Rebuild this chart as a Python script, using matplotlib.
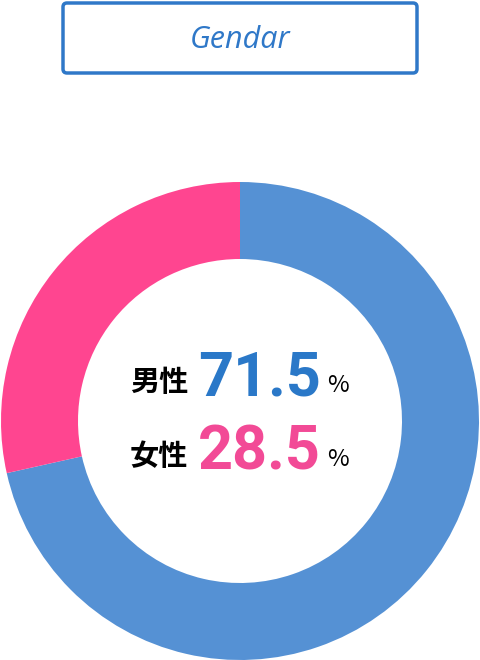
import matplotlib.pyplot as plt
from matplotlib.patches import FancyBboxPatch

labels = ['男性', '女性']
values = [71.5, 28.5]
ring_colors = ['#5591d4', '#ff4590']
text_colors = ['#2a78c8', '#f24a96']

fig = plt.figure(figsize=(4.8, 6.6), dpi=100)
ax = fig.add_axes([0, 0, 1, 1])

ax.pie(values, colors=ring_colors, startangle=90, counterclock=False,
       center=(240, 239), radius=239,
       wedgeprops=dict(width=77, linewidth=0))
ax.set_xlim(0, 480)
ax.set_ylim(0, 660)
ax.set_aspect('equal')
ax.axis('off')

# title box
box = FancyBboxPatch((63, 660 - 73), 354, 70, boxstyle='round,pad=0,rounding_size=4',
                     facecolor='white', edgecolor='#2f78c8', linewidth=2.5)
ax.add_patch(box)
ax.text(240, 660 - 40, 'Gendar', color='#2f78c8', fontsize=22, style='italic',
        family='Open Sans', ha='center', va='center')

rows_y = [660 - 382, 660 - 456]
for lab, val, col, y in zip(labels, values, text_colors, rows_y):
    ax.text(188, y, lab, fontsize=21, fontweight='bold', ha='right', va='center',
            family=['Noto Sans CJK JP', 'DejaVu Sans'], color='black')
    ax.text(198, y + 3, f'{val:.1f}', fontsize=44, fontweight='bold', ha='left',
            va='center', family='Roboto', color=col)
    ax.text(327, y - 4, '%', fontsize=17, ha='left', va='center',
            family=['Noto Sans CJK JP', 'DejaVu Sans'], color='black')

fig.savefig('out.png', dpi=100)
